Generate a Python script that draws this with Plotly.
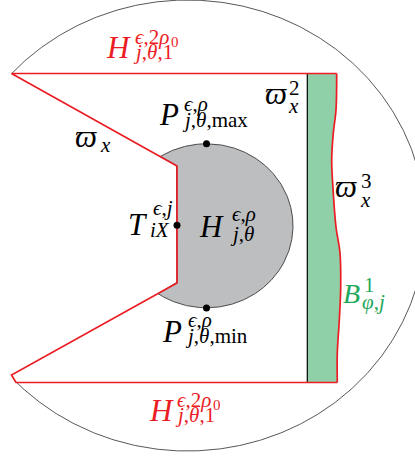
import numpy as np
import plotly.graph_objects as go

# ---------------- data (diagram geometry, in picture units) ----------------
outer_center = (187.5, 225.5)
outer_radii = (238.0, 225.5)

boundary_x = [336.7, 11.5, 177.0, 177.0, 11.5, 16.0, 337.3]
boundary_y = [73.5, 73.5, 166.0, 283.0, 375.0, 382.5, 382.5]

wave_x = [336.7, 336.0, 333.3, 331.7, 333.3, 336.0, 340.0, 340.7, 339.3, 337.3, 337.3]
wave_y = [73.5, 110.0, 133.0, 160.0, 193.0, 227.0, 253.0, 287.0, 320.0, 353.0, 382.5]

strip_x = 307.3
strip_y = [73.5, 382.5]

disk_center = (206.5, 225.8)
disk_radii = (86.5, 82.0)

point_names = ["P_max", "T", "P_min"]
point_x = [206.5, 177.0, 206.5]
point_y = [143.7, 225.3, 308.0]

# label texts
lbl_H_top = ["<i>H</i>", "<i>ϵ</i>,2<i>ρ</i>", "0", "<i>j</i>,<i>θ</i>,1"]
lbl_varpi = ["<i>ϖ</i>", "<i>x</i>"]
lbl_Pmax = ["<i>P</i>", "<i>ϵ</i>,<i>ρ</i>", "<i>j</i>,<i>θ</i>,max"]
lbl_varpi2 = ["<i>ϖ</i>", "2", "<i>x</i>"]
lbl_varpi3 = ["<i>ϖ</i>", "3", "<i>x</i>"]
lbl_T = ["<i>T</i>", "<i>ϵ</i>,<i>j</i>", "<i>iX</i>"]
lbl_H_in = ["<i>H</i>", "<i>ϵ</i>,<i>ρ</i>", "<i>j</i>,<i>θ</i>"]
lbl_Pmin = ["<i>P</i>", "<i>ϵ</i>,<i>ρ</i>", "<i>j</i>,<i>θ</i>,min"]
lbl_B = ["<i>B</i>", "1", "<i>φ</i>,<i>j</i>"]

# ---------------- styles ----------------
RED = "#ec1c24"
GREEN_FILL = "#90d0a8"
GREEN_TXT = "#1ea85a"
GRAY_FILL = "#bcbec0"
FONT = "Liberation Serif, DejaVu Serif, serif"

fig = go.Figure()

# gray disk clipped by the red boundary
cx, cy = disk_center
rx, ry = disk_radii
ys = np.unique(np.concatenate([np.linspace(cy - ry, cy + ry, 600), [166.0, 283.0]]))
half = rx * np.sqrt(np.clip(1 - ((ys - cy) / ry) ** 2, 0, None))
f = np.interp(ys, boundary_y[1:5], boundary_x[1:5])
left = np.maximum(cx - half, f)
right = cx + half
gx = np.concatenate([right, left[::-1]])
gy = np.concatenate([ys, ys[::-1]])
fig.add_trace(go.Scatter(x=gx, y=gy, mode="lines", fill="toself", fillcolor=GRAY_FILL,
                         line=dict(color="#3a3a3a", width=0.9), hoverinfo="skip"))

# green strip
sx = [strip_x] + wave_x + [strip_x]
sy = [strip_y[0]] + wave_y + [strip_y[1]]
fig.add_trace(go.Scatter(x=sx, y=sy, mode="lines", fill="toself", fillcolor=GREEN_FILL,
                         line=dict(width=0), hoverinfo="skip"))

# outer arc
ocx, ocy = outer_center
orx, ory = outer_radii
t1 = np.arctan2((boundary_y[1] - ocy) / ory, (boundary_x[1] - ocx) / orx)
t2 = np.arctan2((boundary_y[5] - ocy) / ory, (boundary_x[5] - ocx) / orx)
t = np.linspace(t1, t2, 500)
fig.add_trace(go.Scatter(x=ocx + orx * np.cos(t), y=ocy + ory * np.sin(t), mode="lines",
                         line=dict(color="#444444", width=0.9), hoverinfo="skip"))

# black vertical line
fig.add_trace(go.Scatter(x=[strip_x, strip_x], y=strip_y, mode="lines",
                         line=dict(color="black", width=1.2), hoverinfo="skip"))

# red boundary
fig.add_trace(go.Scatter(x=boundary_x, y=boundary_y, mode="lines",
                         line=dict(color=RED, width=1.7), hoverinfo="skip"))
fig.add_trace(go.Scatter(x=wave_x, y=wave_y, mode="lines", line_shape="spline",
                         line=dict(color=RED, width=1.7), hoverinfo="skip"))

# points
fig.add_trace(go.Scatter(x=point_x, y=point_y, mode="markers", text=point_names,
                         marker=dict(color="black", size=7), hoverinfo="text"))

# ---------------- labels ----------------
def put(text, x, base, size, color):
    fig.add_annotation(x=x, y=base - 0.34 * size, xref="x", yref="y", text=text,
                       showarrow=False, xanchor="left", yanchor="middle", borderpad=0,
                       font=dict(family=FONT, size=size, color=color))

M, S, SS = 31, 21, 15

put(lbl_H_top[0], 105, 58, M, RED)
put(lbl_H_top[1], 134, 44, S, RED)
put(lbl_H_top[2], 170, 47, SS, RED)
put(lbl_H_top[3], 132, 59, S, RED)

put(lbl_H_top[0], 148, 421, M, RED)
put(lbl_H_top[1], 176, 407, S, RED)
put(lbl_H_top[2], 212, 410, SS, RED)
put(lbl_H_top[3], 174, 422, S, RED)

put(lbl_varpi[0], 74, 147, M, "black")
put(lbl_varpi[1], 99, 152, S, "black")

put(lbl_Pmax[0], 158, 125, M, "black")
put(lbl_Pmax[1], 183, 111, S, "black")
put(lbl_Pmax[2], 181, 127, S, "black")

put(lbl_varpi2[0], 264, 104, M, "black")
put(lbl_varpi2[1], 288, 95, S, "black")
put(lbl_varpi2[2], 287, 113, S, "black")

put(lbl_varpi3[0], 334, 197, M, "black")
put(lbl_varpi3[1], 360, 188, S, "black")
put(lbl_varpi3[2], 359, 207, S, "black")

put(lbl_T[0], 127, 235, M, "black")
put(lbl_T[1], 152, 215, S, "black")
put(lbl_T[2], 149, 237, S, "black")

put(lbl_H_in[0], 198, 237, M, "black")
put(lbl_H_in[1], 231, 221, S, "black")
put(lbl_H_in[2], 229, 241, S, "black")

put(lbl_Pmin[0], 161, 342, M, "black")
put(lbl_Pmin[1], 187, 327, S, "black")
put(lbl_Pmin[2], 184, 343, S, "black")

put(lbl_B[0], 342, 303, 28, GREEN_TXT)
put(lbl_B[1], 363, 292, S, GREEN_TXT)
put(lbl_B[2], 361, 309, S, GREEN_TXT)

fig.update_layout(
    width=415, height=457, margin=dict(l=0, r=0, t=0, b=0),
    paper_bgcolor="white", plot_bgcolor="white", showlegend=False,
    xaxis=dict(range=[0, 415], visible=False, fixedrange=True),
    yaxis=dict(range=[457, 0], visible=False, fixedrange=True),
)

fig.write_html("out.html", config={"displayModeBar": False},
               post_script="document.body.style.margin='0';document.body.style.padding='0';"
                           "document.body.style.overflow='hidden';")
